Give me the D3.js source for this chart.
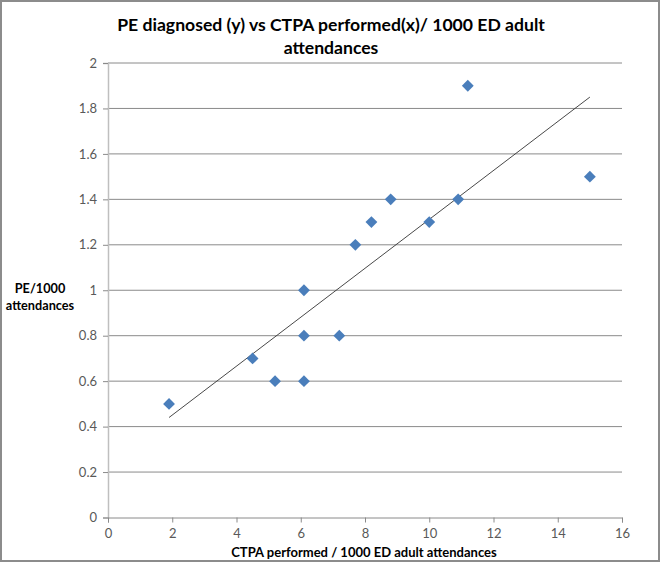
<!DOCTYPE html>
<html><head><meta charset="utf-8">
<script src="https://cdnjs.cloudflare.com/ajax/libs/d3/7.8.5/d3.min.js"></script>
<style>body{margin:0;background:#fff}svg{display:block}</style>
</head><body>
<script>
const titleLines = ["PE diagnosed (y) vs CTPA performed(x)/ 1000 ED adult", "attendances"];
const xTitle = "CTPA performed / 1000 ED adult attendances";
const yTitleLines = ["PE/1000", "attendances"];
const ctpaValues = [1.9, 4.5, 5.2, 6.1, 6.1, 6.1, 7.2, 7.7, 8.2, 8.8, 10, 10.9, 11.2, 15];
const peValues   = [0.5, 0.7, 0.6, 0.6, 0.8, 1.0, 0.8, 1.2, 1.3, 1.4, 1.3, 1.4, 1.9, 1.5];
const trendX = [1.9, 15];
const trendY = [0.44, 1.85];
const xTicks = [0, 2, 4, 6, 8, 10, 12, 14, 16];
const yTicks = [0, 0.2, 0.4, 0.6, 0.8, 1, 1.2, 1.4, 1.6, 1.8, 2];

const W = 660, H = 562;
const font = "Lato, 'Open Sans', sans-serif";
const svg = d3.select("body").append("svg").attr("width", W).attr("height", H);
svg.append("rect").attr("x", 1).attr("y", 1).attr("width", W - 2).attr("height", H - 2)
  .attr("fill", "#fff").attr("stroke", "#8c8c8c").attr("stroke-width", 2);

const x = d3.scaleLinear().domain([0, 16]).range([108, 622]);
const y = d3.scaleLinear().domain([0, 2]).range([517.5, 63]);

// gridlines
svg.append("g").selectAll("line").data(yTicks.filter(d => d > 0)).join("line")
  .attr("x1", x(0)).attr("x2", x(16)).attr("y1", d => y(d)).attr("y2", d => y(d))
  .attr("stroke", "#8a8a8a").attr("stroke-width", 1);

// y axis
const yAxis = svg.append("g").attr("transform", `translate(${x(0)},0)`)
  .call(d3.axisLeft(y).tickValues(yTicks).tickSize(5).tickPadding(6).tickFormat(d3.format("")));
yAxis.select(".domain").attr("stroke", "#bfbfbf").attr("stroke-width", 1.5);
yAxis.selectAll(".tick line").attr("stroke", "#8a8a8a");
yAxis.selectAll("text").attr("fill", "#595959").style("font", `13px ${font}`);

// x axis
const xAxis = svg.append("g").attr("transform", `translate(0,${y(0)})`)
  .call(d3.axisBottom(x).tickValues(xTicks).tickSize(5).tickPadding(6));
xAxis.select(".domain").attr("stroke", "#8a8a8a").attr("stroke-width", 1);
xAxis.selectAll(".tick line").attr("stroke", "#8a8a8a");
xAxis.selectAll("text").attr("fill", "#595959").style("font", `13px ${font}`);

// trend line
svg.append("line")
  .attr("x1", x(trendX[0])).attr("y1", y(trendY[0]))
  .attr("x2", x(trendX[1])).attr("y2", y(trendY[1]))
  .attr("stroke", "#333").attr("stroke-width", 0.9);

// points
const sym = d3.symbol().type(d3.symbolSquare).size(70);
svg.append("g").selectAll("path").data(ctpaValues.map((v, i) => [v, peValues[i]])).join("path")
  .attr("d", sym)
  .attr("transform", d => `translate(${x(d[0])},${y(d[1])}) rotate(45)`)
  .attr("fill", "#4a7ebb");

// titles
svg.append("g").selectAll("text").data(titleLines).join("text")
  .attr("x", 331).attr("y", (d, i) => 31 + i * 23)
  .attr("text-anchor", "middle").attr("font-family", font).attr("font-weight", "bold")
  .attr("font-size", 17.6).attr("fill", "#000").text(d => d);

svg.append("text").attr("x", 364).attr("y", 557).attr("text-anchor", "middle")
  .attr("font-family", font).attr("font-weight", "bold").attr("font-size", 13).attr("fill", "#000")
  .text(xTitle);

svg.append("g").selectAll("text").data(yTitleLines).join("text")
  .attr("x", 40).attr("y", (d, i) => 293 + i * 17)
  .attr("text-anchor", "middle").attr("font-family", font).attr("font-weight", "bold")
  .attr("font-size", 12.7).attr("fill", "#000").text(d => d);
</script>
</body></html>
